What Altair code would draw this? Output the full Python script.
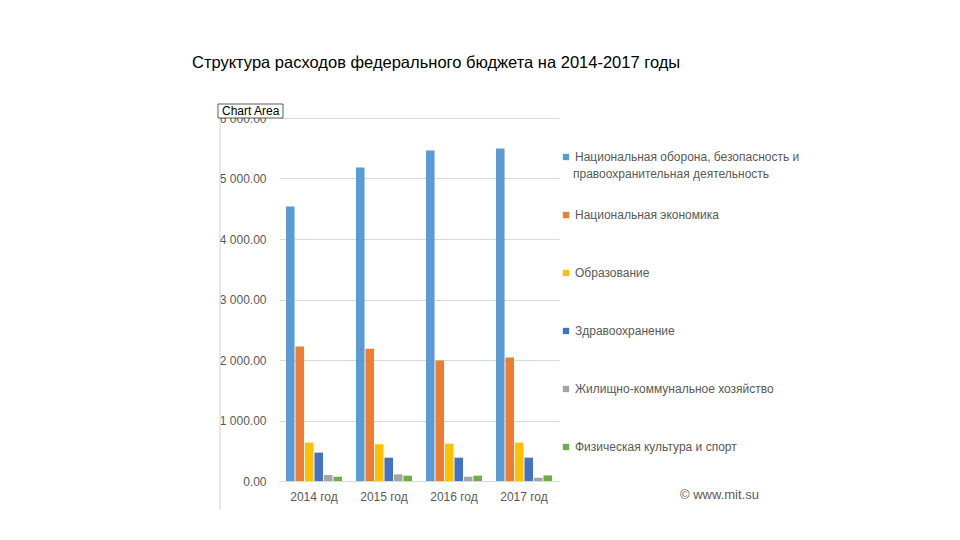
import altair as alt
import pandas as pd

years = ["2014 год", "2015 год", "2016 год", "2017 год"]
categories = [
    "Национальная оборона, безопасность и правоохранительная деятельность",
    "Национальная экономика",
    "Образование",
    "Здравоохранение",
    "Жилищно-коммунальное хозяйство",
    "Физическая культура и спорт",
]
legend_first_lines = ["Национальная оборона, безопасность и", "правоохранительная деятельность"]
colors = ["#5B9BD5", "#ED7D31", "#FFC000", "#4472C4", "#A5A5A5", "#70AD47"]
values = {
    categories[0]: [4536, 5182, 5464, 5497],
    categories[1]: [2224, 2185, 1992, 2041],
    categories[2]: [634, 607, 617, 634],
    categories[3]: [469, 386, 386, 386],
    categories[4]: [99, 110, 71, 55],
    categories[5]: [71, 88, 88, 93],
}

rows = []
for c in categories:
    for y, v in zip(years, values[c]):
        rows.append({"year": y, "cat": c, "value": v})
df = pd.DataFrame(rows)

label_expr = f"datum.label == '{categories[0]}' ? '{legend_first_lines[0]}' : datum.label"

bars = alt.Chart(df).mark_bar().encode(
    x=alt.X("year:N", sort=years, title=None,
            scale=alt.Scale(paddingInner=0.2, paddingOuter=0.1),
            axis=alt.Axis(labelAngle=0, ticks=False, domain=True, domainColor="#D9D9D9",
                          labelColor="#595959", labelFontSize=12, labelPadding=10,
                          labelFont="Liberation Sans")),
    xOffset=alt.XOffset("cat:N", sort=categories, scale=alt.Scale(paddingInner=0.1)),
    y=alt.Y("value:Q", title=None,
            scale=alt.Scale(domain=[0, 6000]),
            axis=alt.Axis(values=[0, 1000, 2000, 3000, 4000, 5000, 6000], ticks=False, domain=False,
                          gridColor="#D9D9D9", labelColor="#595959", labelFontSize=12,
                          labelFont="Liberation Sans", labelPadding=13, zindex=0,
                          labelExpr="replace(format(datum.value, ',.2f'), ',', ' ')")),
    color=alt.Color("cat:N", sort=categories,
                    scale=alt.Scale(domain=categories, range=colors),
                    legend=alt.Legend(title=None, orient="none", legendX=281, legendY=33,
                                      symbolType="square", symbolSize=40, symbolStrokeWidth=0,
                                      labelColor="#595959", labelFontSize=12, labelOffset=3,
                                      labelFont="Liberation Sans", labelLimit=400,
                                      rowPadding=46, labelExpr=label_expr)),
)

legend_second_line = alt.Chart(pd.DataFrame({"t": [legend_first_lines[1]]})).mark_text(
    align="left", baseline="middle", fontSize=12, color="#595959", font="Liberation Sans"
).encode(text="t:N", x=alt.value(294), y=alt.value(56))

side_line = alt.Chart(pd.DataFrame({"a": [0]})).mark_rule(color="#D0D0D0").encode(
    x=alt.value(-59), y=alt.value(-10), y2=alt.value(392)
)

watermark = alt.Chart(pd.DataFrame({"t": ["© www.mit.su"]})).mark_text(
    align="left", baseline="middle", fontSize=13, color="#595959", font="Liberation Sans"
).encode(text="t:N", x=alt.value(401), y=alt.value(377))

chart_area_box = alt.Chart(pd.DataFrame({"a": [0]})).mark_rect(
    fill="white", stroke="#333333", strokeWidth=0.8
).encode(x=alt.value(-61), x2=alt.value(4), y=alt.value(-14), y2=alt.value(0))

chart_area_text = alt.Chart(pd.DataFrame({"t": ["Chart Area"]})).mark_text(
    align="left", baseline="middle", fontSize=12, color="black", font="Liberation Sans"
).encode(text="t:N", x=alt.value(-57), y=alt.value(-7))

chart = alt.layer(side_line, bars, legend_second_line, watermark, chart_area_box, chart_area_text).properties(
    width=280, height=363,
    title=alt.TitleParams("Структура расходов федерального бюджета  на 2014-2017 годы",
                          anchor="start", frame="group", dx=-87, offset=32,
                          fontSize=16.5, fontWeight="normal", color="black",
                          font="Liberation Sans"),
    autosize=alt.AutoSizeParams(type="none"),
    padding={"left": 271, "top": 110, "right": 380, "bottom": 45},
).configure_view(stroke=None)

chart.save("out.html", embed_options={"renderer": "svg", "actions": False})
